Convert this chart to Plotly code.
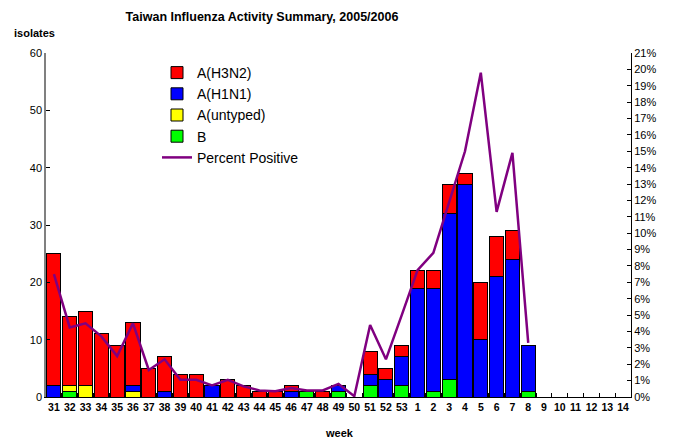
import plotly.graph_objects as go

weeks = [str(w) for w in list(range(31, 54)) + list(range(1, 15))]

h3n2 = [23, 12, 13, 11, 9, 11, 5, 6, 4, 4, 0, 3, 2, 1, 1, 1, 0, 1, 0, 0,
        4, 2, 2, 3, 3, 5, 2, 10, 7, 5, 0, 0, 0, 0, 0, 0, 0]
h1n1 = [2, 0, 0, 0, 0, 1, 0, 1, 0, 0, 2, 0, 0, 0, 0, 1, 0, 0, 1, 0,
        2, 3, 5, 19, 18, 29, 37, 10, 21, 24, 8, 0, 0, 0, 0, 0, 0]
untyped = [0, 1, 2, 0, 0, 1, 0, 0, 0, 0, 0, 0, 0, 0, 0, 0, 0, 0, 0, 0,
           0, 0, 0, 0, 0, 0, 0, 0, 0, 0, 0, 0, 0, 0, 0, 0, 0]
b_type = [0, 1, 0, 0, 0, 0, 0, 0, 0, 0, 0, 0, 0, 0, 0, 0, 1, 0, 1, 0,
          2, 0, 2, 0, 1, 3, 0, 0, 0, 0, 1, 0, 0, 0, 0, 0, 0]
pct_positive = [7.5, 4.25, 4.5, 3.7, 2.5, 4.5, 1.65, 2.3, 1.05, 1.05, 0.7, 1.05,
                0.65, 0.4, 0.35, 0.55, 0.4, 0.4, 0.8, 0.05,
                4.4, 2.3, 5.0, 7.75, 8.8, 11.9, 15.0, 19.8, 11.3, 14.9, 3.3,
                None, None, None, None, None, None]

font_family = "Arial, Liberation Sans, sans-serif"
outline = dict(color="black", width=1)

fig = go.Figure()
fig.add_trace(go.Bar(x=weeks, y=b_type, name="B", marker=dict(color="#00ff00", line=outline), legendrank=4))
fig.add_trace(go.Bar(x=weeks, y=untyped, name="A(untyped)", marker=dict(color="#ffff00", line=outline), legendrank=3))
fig.add_trace(go.Bar(x=weeks, y=h1n1, name="A(H1N1)", marker=dict(color="#0000ff", line=outline), legendrank=2))
fig.add_trace(go.Bar(x=weeks, y=h3n2, name="A(H3N2)", marker=dict(color="#ff0000", line=outline), legendrank=1))
fig.add_trace(go.Scatter(x=weeks, y=pct_positive, name="Percent Positive", mode="lines",
                         line=dict(color="#800080", width=2.5), yaxis="y2", legendrank=5,
                         connectgaps=False))

fig.update_layout(
    width=677, height=441,
    margin=dict(l=46, r=46, t=53, b=44, autoexpand=False),
    paper_bgcolor="white", plot_bgcolor="white",
    barmode="stack", bargap=0.11,
    font=dict(family=font_family, size=11, color="black"),
    title=dict(text="<b>Taiwan Influenza Activity Summary, 2005/2006</b>",
               x=262/677, xanchor="center", y=1-17/441, yanchor="middle",
               font=dict(size=12.5, family=font_family, color="black")),
    xaxis=dict(type="category", categoryorder="array", categoryarray=weeks,
               showline=True, linecolor="black", linewidth=1, tickangle=0, automargin=False,
               ticks="inside", tickson="boundaries", ticklen=4, tickcolor="black",
               tickfont=dict(size=10.5, weight="bold"), showgrid=False, zeroline=False),
    yaxis=dict(range=[0, 60], dtick=10, showline=True, linecolor="#808080", linewidth=1.5,
               ticks="inside", ticklen=4, tickcolor="black", showgrid=False, zeroline=False,
               tickfont=dict(size=11), automargin=False),
    yaxis2=dict(range=[0, 21], dtick=1, ticksuffix="%", overlaying="y", side="right",
                showline=True, linecolor="black", linewidth=1, automargin=False,
                ticks="inside", ticklen=4, tickcolor="black", showgrid=False, zeroline=False,
                tickfont=dict(size=11)),
    legend=dict(x=(157-46)/585, y=(397-57)/344, xanchor="left", yanchor="top",
                bgcolor="rgba(0,0,0,0)", font=dict(size=14, family=font_family),
                itemwidth=30, tracegroupgap=0, traceorder="normal"),
    showlegend=True,
    annotations=[
        dict(text="<b>isolates</b>", xref="paper", yref="paper",
             x=(12-46)/585, y=(397-33)/344, xanchor="left", yanchor="middle",
             showarrow=False, font=dict(size=11)),
        dict(text="<b>week</b>", xref="paper", yref="paper",
             x=(339-46)/585, y=(397-433)/344, xanchor="center", yanchor="middle",
             showarrow=False, font=dict(size=11)),
    ],
)

fig.write_html("out.html", config={"displayModeBar": False},
               post_script="document.body.style.margin='0';document.body.style.padding='0';")
